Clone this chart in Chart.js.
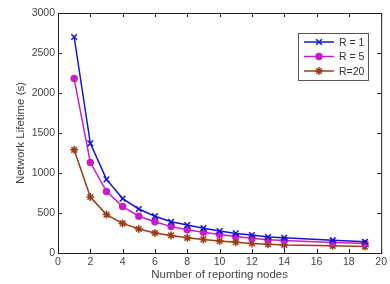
<!DOCTYPE html>
<html>
<head>
<meta charset="utf-8">
<script src="https://cdn.jsdelivr.net/npm/chart.js@4.4.0/dist/chart.umd.min.js"></script>
<style>
  html, body { margin: 0; padding: 0; background: #fff; }
  #wrap { width: 390px; height: 284px; }
</style>
</head>
<body>
<div id="wrap"><canvas id="lifetimeChart" width="390" height="284"></canvas></div>
<script>
const nodes = [1, 2, 3, 4, 5, 6, 7, 8, 9, 10, 11, 12, 13, 14, 17, 19];
const r1 = [2700, 1370, 920, 680, 550, 460, 390, 350, 310, 275, 245, 225, 200, 190, 160, 140];
const r5 = [2180, 1130, 770, 580, 460, 390, 330, 290, 260, 230, 205, 185, 165, 155, 130, 120];
const r20 = [1290, 700, 480, 370, 300, 250, 220, 190, 170, 150, 135, 120, 110, 100, 90, 80];
const seriesNames = ['R = 1', 'R = 5', 'R=20'];
const yTicks = [0, 500, 1000, 1500, 2000, 2500, 3000];
const xTicks = [0, 2, 4, 6, 8, 10, 12, 14, 16, 18, 20];

const FONT = '"Liberation Sans", Arial, sans-serif';
const toPoints = vals => nodes.map((n, i) => ({ x: n, y: vals[i] }));

// box + inward ticks on all 4 sides, matlab style
const boxPlugin = {
  id: 'boxTicks',
  afterDraw(chart) {
    const { ctx, chartArea: a, scales } = chart;
    ctx.save();
    ctx.strokeStyle = '#222';
    ctx.lineWidth = 1;
    ctx.strokeRect(a.left + 0.5, a.top + 0.5, a.right - a.left, a.bottom - a.top);
    ctx.beginPath();
    xTicks.forEach(t => {
      const px = Math.round(scales.x.getPixelForValue(t)) + 0.5;
      ctx.moveTo(px, a.bottom); ctx.lineTo(px, a.bottom - 4);
      ctx.moveTo(px, a.top); ctx.lineTo(px, a.top + 4);
    });
    yTicks.forEach(t => {
      const py = Math.round(scales.y.getPixelForValue(t)) + 0.5;
      ctx.moveTo(a.left, py); ctx.lineTo(a.left + 4, py);
      ctx.moveTo(a.right, py); ctx.lineTo(a.right - 4, py);
    });
    ctx.stroke();
    ctx.restore();
  }
};

// legend box inside the plot, top right
const legendPlugin = {
  id: 'boxLegend',
  afterDraw(chart) {
    const { ctx } = chart;
    const x = 298, y = 33, w = 70, h = 47;
    ctx.save();
    ctx.fillStyle = '#fff';
    ctx.fillRect(x, y, w, h);
    ctx.strokeStyle = '#555';
    ctx.lineWidth = 1;
    ctx.strokeRect(x + 0.5, y + 0.5, w, h);
    ctx.font = '10.5px ' + FONT;
    ctx.textBaseline = 'middle';
    chart.data.datasets.forEach((ds, i) => {
      const ly = y + 9 + i * 14.5;
      ctx.strokeStyle = ds.borderColor;
      ctx.fillStyle = ds.borderColor;
      ctx.lineWidth = 1.5;
      ctx.beginPath();
      ctx.moveTo(x + 6, ly); ctx.lineTo(x + 36, ly);
      ctx.stroke();
      Chart.helpers.drawPoint(ctx, {
        pointStyle: ds.pointStyle, radius: ds.pointRadius, borderWidth: 1.5
      }, x + 21, ly);
      ctx.fillStyle = '#333';
      ctx.fillText(ds.label, x + 41, ly + 1);
    });
    ctx.restore();
  }
};

function makeSet(label, vals, color, style, radius) {
  return {
    label: label,
    data: toPoints(vals),
    borderColor: color,
    backgroundColor: color,
    pointBackgroundColor: color,
    pointBorderColor: color,
    borderWidth: 1.5,
    pointStyle: style,
    pointRadius: radius,
    pointBorderWidth: 1.5,
    tension: 0
  };
}

new Chart(document.getElementById('lifetimeChart').getContext('2d'), {
  type: 'line',
  data: {
    datasets: [
      makeSet(seriesNames[0], r1, '#1414d8', 'crossRot', 4),
      makeSet(seriesNames[1], r5, '#c81ec8', 'circle', 3),
      makeSet(seriesNames[2], r20, '#9c3c14', 'star', 4)
    ]
  },
  options: {
    responsive: false,
    animation: false,
    layout: { padding: { left: 14, right: 7, top: 13, bottom: 2 } },
    plugins: { legend: { display: false }, tooltip: { enabled: false } },
    scales: {
      x: {
        type: 'linear',
        min: 0, max: 20,
        afterBuildTicks: s => { s.ticks = xTicks.map(v => ({ value: v })); },
        afterFit: s => { s.height = 29; },
        grid: { display: false, drawTicks: false },
        border: { display: false },
        ticks: { color: '#444', font: { size: 10.5, family: FONT }, padding: 3, maxRotation: 0 },
        title: { display: true, text: 'Number of reporting nodes', color: '#444', font: { size: 11.5, family: FONT }, padding: { top: 1, bottom: 0 } }
      },
      y: {
        min: 0, max: 3000,
        afterBuildTicks: s => { s.ticks = yTicks.map(v => ({ value: v })); },
        afterFit: s => { s.width = 44; },
        grid: { display: false, drawTicks: false },
        border: { display: false },
        ticks: { color: '#444', font: { size: 10.5, family: FONT }, padding: 3, callback: v => String(v) },
        title: { display: true, text: 'Network Lifetime (s)', color: '#444', font: { size: 11.5, family: FONT }, padding: { top: 0, bottom: 2 } }
      }
    }
  },
  plugins: [boxPlugin, legendPlugin]
});
</script>
</body>
</html>
